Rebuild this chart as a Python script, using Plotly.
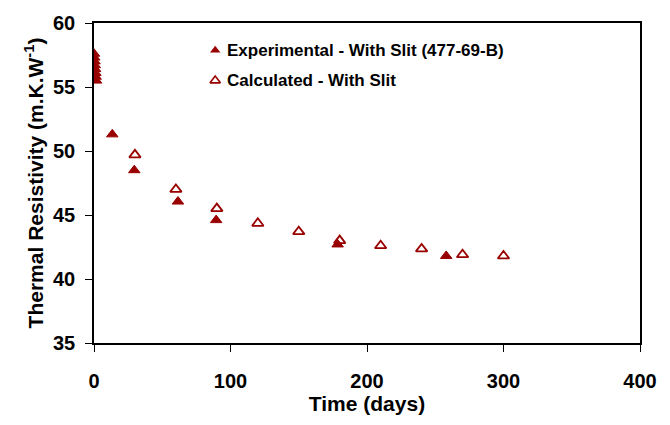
import plotly.graph_objects as go

exp_days = [0.0, 0.2, 0.4, 0.6, 0.8, 1.0, 1.2, 1.5, 13.4, 29.5, 61.5, 89.5, 178.5, 258.0]
exp_res = [57.6, 57.3, 57.0, 56.7, 56.4, 56.1, 55.8, 55.5, 51.3, 48.5, 46.05, 44.6, 42.7, 41.8]

calc_days = [30, 60, 90, 120, 150, 180, 210, 240, 270, 300]
calc_res = [49.7, 47.0, 45.5, 44.35, 43.7, 43.0, 42.6, 42.35, 41.9, 41.8]

red = "#990000"
fig = go.Figure()
fig.add_trace(go.Scatter(x=exp_days, y=exp_res, mode="markers",
                         marker=dict(symbol="triangle-up", size=10, color=red,
                                     line=dict(color=red, width=1)),
                         showlegend=False))
fig.add_trace(go.Scatter(x=calc_days, y=calc_res, mode="markers",
                         marker=dict(symbol="triangle-up-open", size=10, color=red,
                                     line=dict(color=red, width=1.8)),
                         showlegend=False))

# legend entries drawn in paper coordinates
fig.add_trace(go.Scatter(x=[0.222], y=[0.915], xaxis="x2", yaxis="y2", mode="markers",
                         marker=dict(symbol="triangle-up", size=9, color=red),
                         showlegend=False, hoverinfo="skip"))
fig.add_trace(go.Scatter(x=[0.222], y=[0.82], xaxis="x2", yaxis="y2", mode="markers",
                         marker=dict(symbol="triangle-up-open", size=9, color=red,
                                     line=dict(color=red, width=1.6)),
                         showlegend=False, hoverinfo="skip"))

font = "Liberation Sans, Arial, sans-serif"
fig.update_layout(
    width=670, height=425,
    margin=dict(l=94, r=30, t=17, b=82),
    plot_bgcolor="white", paper_bgcolor="white",
    font=dict(family=font, color="black"),
    xaxis=dict(range=[0, 400], tickvals=[0, 100, 200, 300, 400], showgrid=False, zeroline=False,
               showline=True, linecolor="black", linewidth=1.5, mirror=True,
               ticks="outside", ticklen=7, tickcolor="black", ticklabelstandoff=12,
               tickfont=dict(size=20, family=font, weight="bold"),
               title=dict(text="<b>Time (days)</b>", font=dict(size=21), standoff=6)),
    yaxis=dict(range=[35, 60], tickvals=[35, 40, 45, 50, 55, 60], showgrid=False, zeroline=False,
               showline=True, linecolor="black", linewidth=1.5, mirror=True,
               ticks="outside", ticklen=7, tickcolor="black", ticklabelstandoff=6,
               tickfont=dict(size=20, family=font, weight="bold"),
               title=dict(text="<b>Thermal Resistivity (m.K.W<sup>-1</sup>)</b>", font=dict(size=21), standoff=4)),
    xaxis2=dict(domain=[0, 1], range=[0, 1], visible=False, overlaying="x"),
    yaxis2=dict(domain=[0, 1], range=[0, 1], visible=False, overlaying="y"),
    annotations=[
        dict(text="<b>Experimental - With Slit (477-69-B)</b>", x=0.24, y=0.915, xref="paper", yref="paper",
             xanchor="left", yanchor="middle", showarrow=False, font=dict(size=17)),
        dict(text="<b>Calculated - With Slit</b>", x=0.24, y=0.82, xref="paper", yref="paper",
             xanchor="left", yanchor="middle", showarrow=False, font=dict(size=17)),
    ],
)
fig.write_html("out.html")
